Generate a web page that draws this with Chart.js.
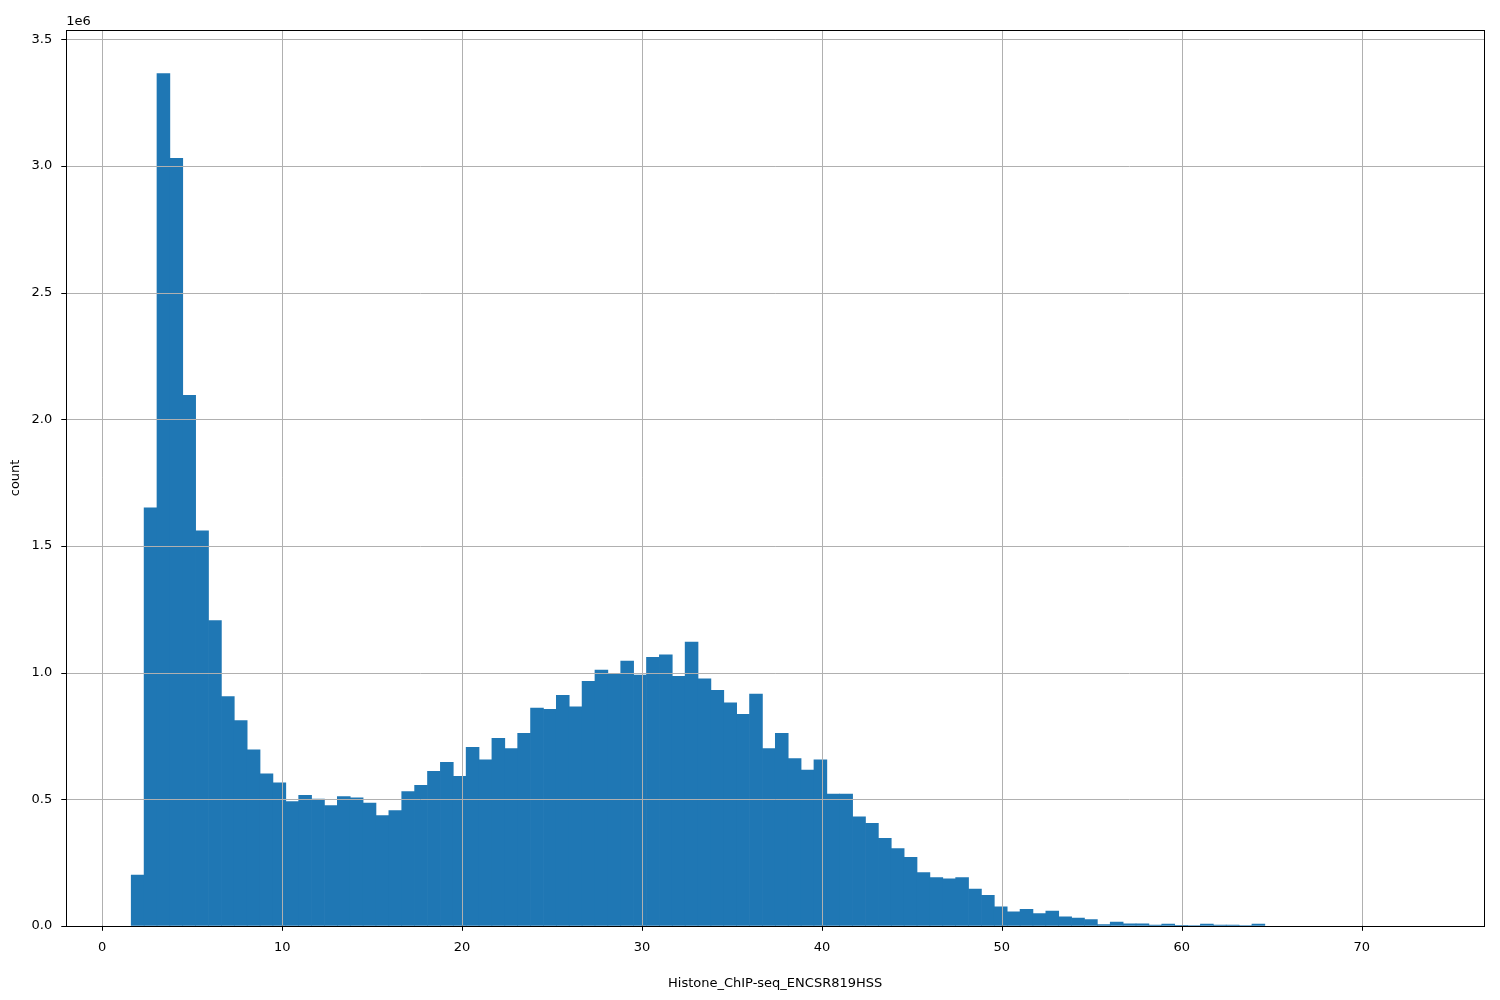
<!DOCTYPE html>
<html>
<head>
<meta charset="utf-8">
<script src="https://cdn.jsdelivr.net/npm/chart.js@4"></script>
<style>
  html, body { margin: 0; padding: 0; background: #fff; }
  #wrap { width: 1500px; height: 1000px; }
</style>
</head>
<body>
<div id="wrap"><canvas id="histChart"></canvas></div>
<script>
const binStart = 1.61;
const binWidth = 0.716;
const counts = [
    0.2, 1.65, 3.365, 3.03, 2.095, 1.56, 1.205, 0.905, 0.81, 0.695,
    0.60, 0.565, 0.49, 0.515, 0.50, 0.475, 0.51, 0.505, 0.485, 0.435,
    0.455, 0.53, 0.555, 0.61, 0.645, 0.59, 0.705, 0.655, 0.74, 0.70,
    0.76, 0.86, 0.855, 0.91, 0.865, 0.965, 1.01, 0.995, 1.045, 0.99,
    1.06, 1.07, 0.985, 1.12, 0.975, 0.93, 0.88, 0.835, 0.915, 0.70,
    0.76, 0.66, 0.615, 0.655, 0.52, 0.52, 0.43, 0.405, 0.345, 0.305,
    0.27, 0.21, 0.19, 0.185, 0.19, 0.145, 0.12, 0.075, 0.055, 0.065,
    0.048, 0.058, 0.035, 0.03, 0.025, 0.005, 0.015, 0.008, 0.008, 0.003,
    0.007, 0.002, 0.001, 0.007, 0.003, 0.003, 0.001, 0.007, null, null,
    null, null, null, null, null, null, null, null, null, null
];
const xTicks = [0, 10, 20, 30, 40, 50, 60, 70];
const yTicks = [0, 0.5e6, 1.0e6, 1.5e6, 2.0e6, 2.5e6, 3.0e6, 3.5e6];

const points = counts.map((c, i) => ({ x: binStart + binWidth * (i + 0.5), y: c === null ? null : c * 1e6 }));
const tickFont = { family: "DejaVu Sans", size: 13 };

const frameAndGrid = {
    id: "frameAndGrid",
    afterDatasetsDraw(chart) {
        const { ctx, chartArea: a, scales } = chart;
        ctx.save();
        ctx.lineWidth = 1;
        xTicks.forEach(v => {
            const px = Math.round(scales.x.getPixelForValue(v)) + 0.5;
            ctx.strokeStyle = "#b0b0b0";
            ctx.beginPath(); ctx.moveTo(px, a.top); ctx.lineTo(px, a.bottom); ctx.stroke();
            ctx.strokeStyle = "#000";
            ctx.beginPath(); ctx.moveTo(px, a.bottom); ctx.lineTo(px, a.bottom + 5); ctx.stroke();
        });
        yTicks.forEach(v => {
            const py = Math.round(scales.y.getPixelForValue(v)) + 0.5;
            ctx.strokeStyle = "#b0b0b0";
            ctx.beginPath(); ctx.moveTo(a.left, py); ctx.lineTo(a.right, py); ctx.stroke();
            ctx.strokeStyle = "#000";
            ctx.beginPath(); ctx.moveTo(a.left - 5, py); ctx.lineTo(a.left, py); ctx.stroke();
        });
        ctx.strokeStyle = "#000";
        ctx.strokeRect(Math.round(a.left) + 0.5, Math.round(a.top) + 0.5, Math.round(a.right - a.left), Math.round(a.bottom - a.top));
        ctx.fillStyle = "#000";
        ctx.font = "13px 'DejaVu Sans'";
        ctx.textBaseline = "bottom";
        ctx.fillText("1e6", a.left, a.top - 2);
        ctx.restore();
    }
};

new Chart(document.getElementById("histChart"), {
    type: "bar",
    data: {
        datasets: [{
            data: points,
            backgroundColor: "#1f77b4",
            borderWidth: 0,
            barPercentage: 1.0,
            categoryPercentage: 1.0
        }]
    },
    options: {
        responsive: true,
        maintainAspectRatio: false,
        animation: false,
        layout: { padding: { top: 30, right: 16, left: 8, bottom: 5 } },
        plugins: { legend: { display: false }, tooltip: { enabled: false } },
        scales: {
            x: {
                type: "linear",
                offset: false,
                min: -2,
                max: 76.8,
                afterBuildTicks: axis => { axis.ticks = xTicks.map(v => ({ value: v })); },
                ticks: { font: tickFont, color: "#000", maxRotation: 0, padding: 6, callback: v => String(v) },
                grid: { display: false },
                border: { display: false },
                title: { display: true, text: "Histone_ChIP-seq_ENCSR819HSS", font: tickFont, color: "#000", padding: { top: 14 } }
            },
            y: {
                min: 0,
                max: 3.537e6,
                afterBuildTicks: axis => { axis.ticks = yTicks.map(v => ({ value: v })); },
                ticks: { font: tickFont, color: "#000", padding: 6, callback: v => (v / 1e6).toFixed(1) },
                grid: { display: false },
                border: { display: false },
                title: { display: true, text: "count", font: tickFont, color: "#000", padding: { top: 0, bottom: 2 } }
            }
        }
    },
    plugins: [frameAndGrid]
});
</script>
</body>
</html>
